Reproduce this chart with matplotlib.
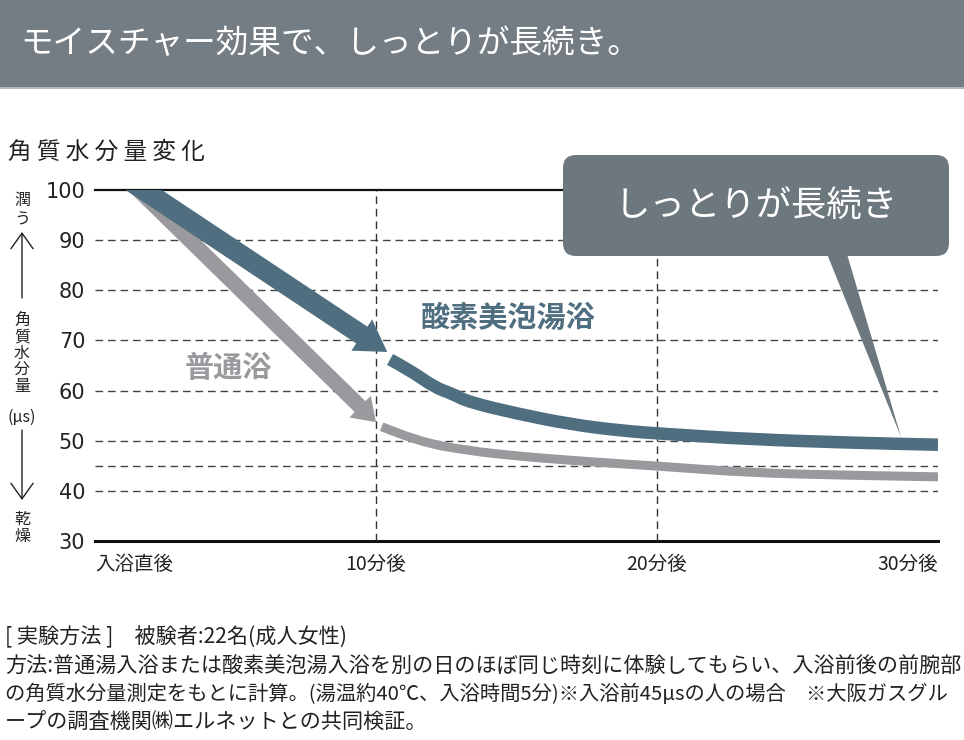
import numpy as np
import matplotlib
matplotlib.use("Agg")
from matplotlib import pyplot as plt
from matplotlib.patches import FancyArrowPatch, FancyBboxPatch, Rectangle, Polygon, PathPatch
from matplotlib.path import Path

plt.rcParams['font.family'] = ['Noto Sans CJK JP', 'DejaVu Sans']

# data (minutes after bath, skin moisture in μs)
x_ticks = [0, 10, 20, 30]
x_labels = ["入浴直後", "10分後", "20分後", "30分後"]
y_ticks = [30, 40, 50, 60, 70, 80, 90, 100]
grid_y = [40, 45, 50, 60, 70, 80, 90]
grid_x = [10, 20]

# first 10 minutes drawn as arrows
oxy_arrow_t = [1.73, 10.4]
oxy_arrow_v = [100, 67.7]
norm_arrow_t = [1.55, 10.0]
norm_arrow_v = [100, 53.7]

# after 10 minutes
oxy_t = [10.5, 11.2, 12.1, 12.7, 13.3, 15.1, 16.9, 18.7, 20.4, 23.3, 26.9, 30]
oxy_v = [66.2, 64.1, 60.6, 59.4, 57.7, 55.3, 53.3, 52.0, 51.3, 50.3, 49.6, 49.2]
norm_t = [10.2, 11.5, 13.3, 15.1, 16.9, 18.7, 20.4, 23.3, 26.9, 30]
norm_v = [52.8, 49.8, 48.0, 46.9, 46.1, 45.4, 44.8, 43.6, 43.1, 42.8]

BLUE = "#4f6f81"
GRAY = "#9a9a9e"
BAR = "#737d83"

W, H = 964, 740
fig = plt.figure(figsize=(W / 100, H / 100), dpi=100)
tr = fig.dpi_scale_trans


def px(x, y):
    # pixel position (from top-left) -> inches for dpi_scale_trans
    return (x / 100, (H - y) / 100)


# title bar
fig.add_artist(Rectangle(px(0, 87), W / 100, 87 / 100, transform=tr,
                         facecolor=BAR, edgecolor="none", zorder=0))
fig.add_artist(Rectangle(px(0, 89), W / 100, 2 / 100, transform=tr,
                         facecolor="#b4b8ba", edgecolor="none", zorder=0))
fig.text(*px(20, 44), "モイスチャー効果で、しっとりが長続き。", transform=tr,
         color="white", fontsize=23.5, va="center", ha="left")

fig.text(*px(8, 152), "角 質 水 分 量 変 化", transform=tr, fontsize=17,
         va="center", ha="left", color="#222222")

# axes
ax = fig.add_axes([95 / W, 1 - 541 / H, (938 - 95) / W, (541 - 190) / H])
ax.set_xlim(0, 30)
ax.set_ylim(30, 100)
for s in ax.spines.values():
    s.set_visible(False)

ax.axhline(100, color="#111111", lw=1.6, clip_on=False, zorder=1)
ax.axhline(30, color="#111111", lw=2.2, clip_on=False, zorder=1)
for gy in grid_y:
    ax.axhline(gy, color="#444444", lw=1.0, ls=(0, (5.5, 3.5)), zorder=1)
for gx in grid_x:
    ax.axvline(gx, color="#333333", lw=1.0, ls=(0, (5.5, 3.5)), zorder=1)

ax.set_yticks(y_ticks)
ax.set_yticklabels([str(v) for v in y_ticks], fontsize=15,
                   family="DejaVu Sans", color="#222222")
ax.tick_params(axis="y", length=0, pad=7)
ax.set_xticks(x_ticks)
ax.set_xticklabels(x_labels, fontsize=14, color="#222222")
ax.tick_params(axis="x", length=0, pad=9)
xl = ax.get_xticklabels()
xl[0].set_ha("left")
xl[-1].set_ha("right")


def band_arrow(t, v, color, tail, hw, hl, z):
    p0 = np.array([t[0], v[0]], float)
    p1 = np.array([t[1], v[1]], float)
    p0 = p0 - 0.05 * (p1 - p0)  # start above the 100 line, clipped flat
    a = FancyArrowPatch(tuple(p0), tuple(p1),
                        arrowstyle="simple,head_width=%g,head_length=%g,tail_width=%g" % (hw, hl, tail),
                        mutation_scale=1, shrinkA=0, shrinkB=0,
                        color=color, lw=0, zorder=z)
    ax.add_patch(a)


def smooth_band(t, v, color, lw, z):
    # quadratic curve through the midpoints of the read points
    pts = list(zip(t, v))
    verts = [pts[0]]
    codes = [Path.MOVETO]
    for i in range(1, len(pts) - 1):
        mid = ((pts[i][0] + pts[i + 1][0]) / 2, (pts[i][1] + pts[i + 1][1]) / 2)
        verts += [pts[i], mid]
        codes += [Path.CURVE3, Path.CURVE3]
    verts.append(pts[-1])
    codes.append(Path.LINETO)
    ax.add_patch(PathPatch(Path(verts, codes), fill=False, edgecolor=color,
                           lw=lw, capstyle="butt", joinstyle="round", zorder=z))


band_arrow(norm_arrow_t, norm_arrow_v, GRAY, 11, 22, 16, 3)
band_arrow(oxy_arrow_t, oxy_arrow_v, BLUE, 14.5, 27, 22, 4)

smooth_band(norm_t, norm_v, GRAY, 6.5, 3)
smooth_band(oxy_t, oxy_v, BLUE, 9, 4)

fig.text(*px(508, 318), "酸素美泡湯浴", transform=tr, color=BLUE,
         fontsize=21, fontweight="bold", ha="center", va="center")
fig.text(*px(228, 368), "普通浴", transform=tr, color=GRAY,
         fontsize=21, fontweight="bold", ha="center", va="center")

# callout
x0, y0 = px(563, 256)
fig.add_artist(FancyBboxPatch((x0, y0), (949 - 563) / 100, (256 - 155) / 100,
                              boxstyle="round,pad=0,rounding_size=0.13",
                              transform=tr, facecolor="#6d787e",
                              edgecolor="none", zorder=10))
fig.add_artist(Polygon([px(827, 254), px(847, 254), px(901, 437)], closed=True,
                       transform=tr, facecolor="#6d787e", edgecolor="none",
                       zorder=10))
fig.text(*px(756, 206), "しっとりが長続き", transform=tr, color="white",
         fontsize=25.5, ha="center", va="center", zorder=11)

# left vertical label
left_x = 22
for ch, yy in [("潤", 201), ("う", 220), ("乾", 519), ("燥", 537)]:
    fig.text(*px(left_x, yy), ch, transform=tr, fontsize=11.5,
             ha="center", va="center", color="#222222")
for ch, yy in [("角", 320), ("質", 337), ("水", 353), ("分", 370), ("量", 387)]:
    fig.text(*px(left_x, yy), ch, transform=tr, fontsize=11.5,
             ha="center", va="center", color="#222222")
fig.text(*px(left_x, 417), "(μs)", transform=tr, fontsize=11.5,
         ha="center", va="center", color="#222222")
fig.add_artist(FancyArrowPatch(px(left_x, 298), px(left_x, 232), transform=tr,
                               arrowstyle="->,head_width=5,head_length=7",
                               mutation_scale=1.6, lw=1.0, color="#222222",
                               shrinkA=0, shrinkB=0))
fig.add_artist(FancyArrowPatch(px(left_x, 430), px(left_x, 500), transform=tr,
                               arrowstyle="->,head_width=5,head_length=7",
                               mutation_scale=1.6, lw=1.0, color="#222222",
                               shrinkA=0, shrinkB=0))

# footnote
notes = [
    "[ 実験方法 ]　被験者:22名(成人女性)",
    "方法:普通湯入浴または酸素美泡湯入浴を別の日のほぼ同じ時刻に体験してもらい、入浴前後の前腕部",
    "の角質水分量測定をもとに計算。(湯温約40℃、入浴時間5分)※入浴前45μsの人の場合　※大阪ガスグル",
    "ープの調査機関㈱エルネットとの共同検証。",
]
note_sizes = [15.2, 15.2, 14.6, 15.2]
for i, line in enumerate(notes):
    fig.text(*px(5, 637 + i * 28.5), line, transform=tr, fontsize=note_sizes[i],
             ha="left", va="center", color="#222222")

fig.savefig("out.png", dpi=100, facecolor="white")
